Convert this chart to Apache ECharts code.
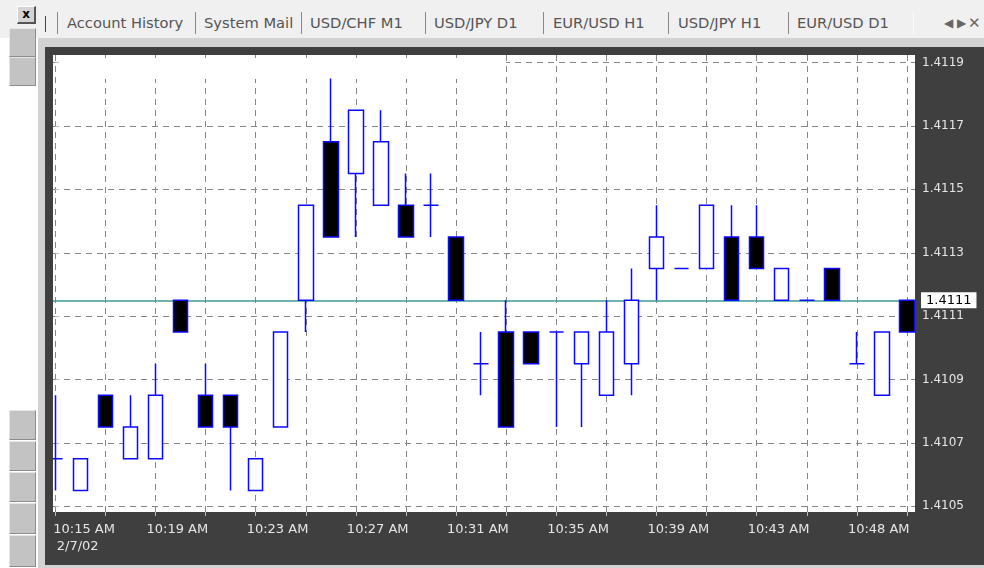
<!DOCTYPE html>
<html>
<head>
<meta charset="utf-8">
<title>USD/CHF M1</title>
<script src="https://cdn.jsdelivr.net/npm/echarts@6/dist/echarts.min.js"></script>
<style>
  html, body { margin: 0; padding: 0; }
  body { width: 984px; height: 568px; position: relative; overflow: hidden; background: #fff; font-family: "DejaVu Sans", sans-serif; }
  .abs { position: absolute; }
  #topbar { left: 0; top: 0; width: 984px; height: 38px; background: #f0f0f0; }
  #band { left: 38px; top: 38px; width: 946px; height: 9px; background: #d2d2d2; }
  #sideband { left: 38px; top: 38px; width: 7px; height: 530px; background: #d2d2d2; }
  #frame { left: 45px; top: 47px; width: 939px; height: 518px; background: #3f3f3f; }
  #foot { left: 38px; top: 565px; width: 946px; height: 3px; background: #d2d2d2; }
  .tab { top: 13px; font-size: 14.7px; line-height: 20px; color: #555; white-space: nowrap; }
  .sep { top: 12px; width: 1px; height: 22px; background: #8a8a8a; }
  .btn { left: 9px; width: 25px; background: #c3c3c3; border-top: 1px solid #e6e6e6; border-left: 1px solid #e6e6e6; border-bottom: 1px solid #8c8c8c; border-right: 1px solid #8c8c8c; }
  #close { left: 17px; top: 6px; width: 16px; height: 15px; background: #d4d4d4; border-top: 1px solid #fff; border-left: 1px solid #fff; border-bottom: 2px solid #555; border-right: 2px solid #555; font: bold 12px/14px "DejaVu Sans", sans-serif; text-align: center; color: #000; }
  .nav { top: 13px; font-size: 12px; line-height: 20px; color: #666; }
  #chart { position: absolute; left: 0; top: 0; width: 984px; height: 568px; }
</style>
</head>
<body>
<div class="abs" id="topbar"></div>
<div class="abs" id="band"></div>
<div class="abs" id="sideband"></div>
<div class="abs" id="frame"></div>
<div class="abs" id="foot"></div>

<div class="abs" id="close">x</div>
<div class="abs btn" style="top:28px;height:27px"></div>
<div class="abs btn" style="top:57px;height:27px"></div>
<div class="abs btn" style="top:410px;height:28px"></div>
<div class="abs btn" style="top:441px;height:28px"></div>
<div class="abs btn" style="top:472px;height:28px"></div>
<div class="abs btn" style="top:503px;height:29px"></div>
<div class="abs btn" style="top:535px;height:30px"></div>

<div class="abs sep" style="left:45px;top:16px;height:16px;background:#444"></div>
<div class="abs sep" style="left:57px"></div>
<div class="abs tab" style="left:67px">Account History</div>
<div class="abs sep" style="left:195px"></div>
<div class="abs tab" style="left:204px">System Mail</div>
<div class="abs sep" style="left:301px"></div>
<div class="abs tab" style="left:310px">USD/CHF M1</div>
<div class="abs sep" style="left:425px"></div>
<div class="abs tab" style="left:434px">USD/JPY D1</div>
<div class="abs sep" style="left:543px"></div>
<div class="abs tab" style="left:553px">EUR/USD H1</div>
<div class="abs sep" style="left:668px"></div>
<div class="abs tab" style="left:678px">USD/JPY H1</div>
<div class="abs sep" style="left:788px"></div>
<div class="abs tab" style="left:797px">EUR/USD D1</div>
<div class="abs sep" style="left:913px;background:#fafafa"></div>
<div class="abs nav" style="left:944px">&#9664;</div>
<div class="abs nav" style="left:957px">&#9654;</div>
<div class="abs nav" style="left:968px;font-size:15px">&#10005;</div>

<div id="chart"></div>
<script>
  // one-minute bars, 2/7/02 (10:47 is missing on the chart)
  const times = ['10:15 AM', '10:16 AM', '10:17 AM', '10:18 AM', '10:19 AM', '10:20 AM', '10:21 AM',
    '10:22 AM', '10:23 AM', '10:24 AM', '10:25 AM', '10:26 AM', '10:27 AM', '10:28 AM', '10:29 AM',
    '10:30 AM', '10:31 AM', '10:32 AM', '10:33 AM', '10:34 AM', '10:35 AM', '10:36 AM', '10:37 AM',
    '10:38 AM', '10:39 AM', '10:40 AM', '10:41 AM', '10:42 AM', '10:43 AM', '10:44 AM', '10:45 AM',
    '10:46 AM', '10:48 AM', '10:49 AM', '10:50 AM'];
  const dateLabel = '2/7/02';

  // prettier-ignore
  const openP  = [1.4106, 1.4105, 1.4108, 1.4106, 1.4106, 1.4111, 1.4108, 1.4108, 1.4105, 1.4107, 1.4111, 1.4116, 1.4115, 1.4114, 1.4114, 1.4114, 1.4113, 1.4109, 1.4110, 1.4110, 1.4110, 1.4109, 1.4108, 1.4109, 1.4112, 1.4112, 1.4112, 1.4113, 1.4113, 1.4111, 1.4111, 1.4112, 1.4109, 1.4108, 1.4111];
  // prettier-ignore
  const highP  = [1.4108, 1.4106, 1.4108, 1.4108, 1.4109, 1.4111, 1.4109, 1.4108, 1.4106, 1.4110, 1.4114, 1.4118, 1.4117, 1.4117, 1.4115, 1.4115, 1.4113, 1.4110, 1.4111, 1.4110, 1.4110, 1.4110, 1.4111, 1.4112, 1.4114, 1.4112, 1.4114, 1.4114, 1.4114, 1.4112, 1.4111, 1.4112, 1.4110, 1.4110, 1.4111];
  // prettier-ignore
  const lowP   = [1.4105, 1.4105, 1.4107, 1.4106, 1.4106, 1.4110, 1.4107, 1.4105, 1.4105, 1.4107, 1.4110, 1.4113, 1.4113, 1.4114, 1.4113, 1.4113, 1.4111, 1.4108, 1.4107, 1.4109, 1.4107, 1.4107, 1.4108, 1.4108, 1.4111, 1.4112, 1.4112, 1.4111, 1.4112, 1.4111, 1.4111, 1.4111, 1.4109, 1.4108, 1.4110];
  // prettier-ignore
  const closeP = [1.4106, 1.4106, 1.4107, 1.4107, 1.4108, 1.4110, 1.4107, 1.4107, 1.4106, 1.4110, 1.4114, 1.4113, 1.4117, 1.4116, 1.4113, 1.4114, 1.4111, 1.4109, 1.4107, 1.4109, 1.4110, 1.4110, 1.4110, 1.4111, 1.4113, 1.4112, 1.4114, 1.4111, 1.4112, 1.4112, 1.4111, 1.4111, 1.4109, 1.4110, 1.4110];

  const lastPrice = 1.4111;

  // grid levels sit half a pip off the quotes, the terminal rounds the labels
  const priceTicks = [1.41045, 1.41065, 1.41085, 1.41105, 1.41125, 1.41145, 1.41165, 1.41185];
  const priceLabels = ['1.4105', '1.4107', '1.4109', '1.4111', '1.4113', '1.4115', '1.4117', '1.4119'];
  // vertical grid every 2 bars, time label every 4 bars
  const gridBars = [0, 2, 4, 6, 8, 10, 12, 14, 16, 18, 20, 22, 24, 26, 28, 30, 32, 34];
  const labelBars = [0, 4, 8, 12, 16, 20, 24, 28, 32];

  const candles = times.map((t, i) => [i, openP[i], closeP[i], lowP[i], highP[i]]);

  // visible bar range: first bar is half cut at the left edge
  const xMin = -0.09;
  const xMax = 34.32;

  const blue = '#0a0aff';
  const axisText = '#e6e6e6';
  const gridLine = { show: true, lineStyle: { color: '#868686', width: 1, type: [6, 5] } };

  let chart = echarts.init(document.getElementById('chart'), null, { renderer: 'canvas' });

  let option = {
    animation: false,
    grid: {
      left: 53,
      right: 69,
      top: 55,
      bottom: 56,
      show: true,
      backgroundColor: '#ffffff',
      borderWidth: 0,
    },
    xAxis: {
      type: 'value',
      min: xMin,
      max: xMax,
      axisLine: { show: false },
      axisTick: { show: true, customValues: gridBars, length: 4, lineStyle: { color: '#bdbdbd' } },
      axisLabel: {
        customValues: labelBars,
        color: axisText,
        fontFamily: 'DejaVu Sans',
        fontSize: 13,
        lineHeight: 17,
        align: 'left',
        margin: 9,
        padding: [0, 0, 0, -9],
        formatter: function (v) {
          const i = Math.round(v);
          if (i === 0) {
            return '{a|' + times[i] + '}\n{b|' + dateLabel + '}';
          }
          return times[i];
        },
        rich: {
          a: { color: axisText, fontFamily: 'DejaVu Sans', fontSize: 13, lineHeight: 17, padding: [0, 0, 0, 7] },
          b: { color: axisText, fontFamily: 'DejaVu Sans', fontSize: 13, lineHeight: 17, padding: [0, 0, 0, 10.5] },
        },
      },
      splitLine: gridLine,
    },
    yAxis: {
      type: 'value',
      position: 'right',
      scale: true,
      min: 1.410432,
      max: 1.411874,
      axisLine: { show: false },
      axisTick: { show: true, customValues: priceTicks, length: 4, lineStyle: { color: '#bdbdbd' } },
      axisLabel: {
        customValues: priceTicks,
        color: axisText,
        fontFamily: 'DejaVu Sans',
        fontSize: 12,
        margin: 7,
        formatter: function (v) {
          let k = 0;
          let d = Infinity;
          priceTicks.forEach((t, j) => {
            if (Math.abs(t - v) < d) {
              d = Math.abs(t - v);
              k = j;
            }
          });
          return priceLabels[k];
        },
      },
      splitLine: gridLine,
    },
    series: [
      {
        type: 'candlestick',
        z: 6,
        data: candles,
        encode: { x: 0, y: [1, 2, 3, 4] },
        barWidth: 15,
        silent: true,
        itemStyle: {
          color: '#ffffff',
          color0: '#000000',
          borderColor: blue,
          borderColor0: blue,
          borderColorDoji: blue,
          borderWidth: 1.5,
        },
        // bid line; a yAxis-only markLine does not draw on a value x axis here,
        // so it runs between the two ends of the x range
        markLine: {
          silent: true,
          z: 5,
          symbol: ['none', 'none'],
          lineStyle: { color: '#3a9c98', width: 1.5, type: 'solid' },
          label: {
            show: true,
            position: 'end',
            distance: 6,
            formatter: lastPrice.toFixed(4),
            color: '#000',
            backgroundColor: '#ffffff',
            padding: [2, 5, 1, 5],
            fontFamily: 'DejaVu Sans',
            fontSize: 13,
          },
          data: [[{ coord: [xMin, lastPrice] }, { coord: [xMax, lastPrice] }]],
        },
      },
    ],
    graphic: [
      // frame strip on the left hides the cut-off half of the first bar
      { type: 'rect', z: 100, silent: true, shape: { x: 45, y: 47, width: 8, height: 470 }, style: { fill: '#3f3f3f' } },
      // the screenshot has the top grid row unpainted on the left
      { type: 'rect', z: 1, silent: true, shape: { x: 59, y: 58, width: 447, height: 21 }, style: { fill: '#ffffff' } },
    ],
  };

  chart.setOption(option);
</script>
</body>
</html>
